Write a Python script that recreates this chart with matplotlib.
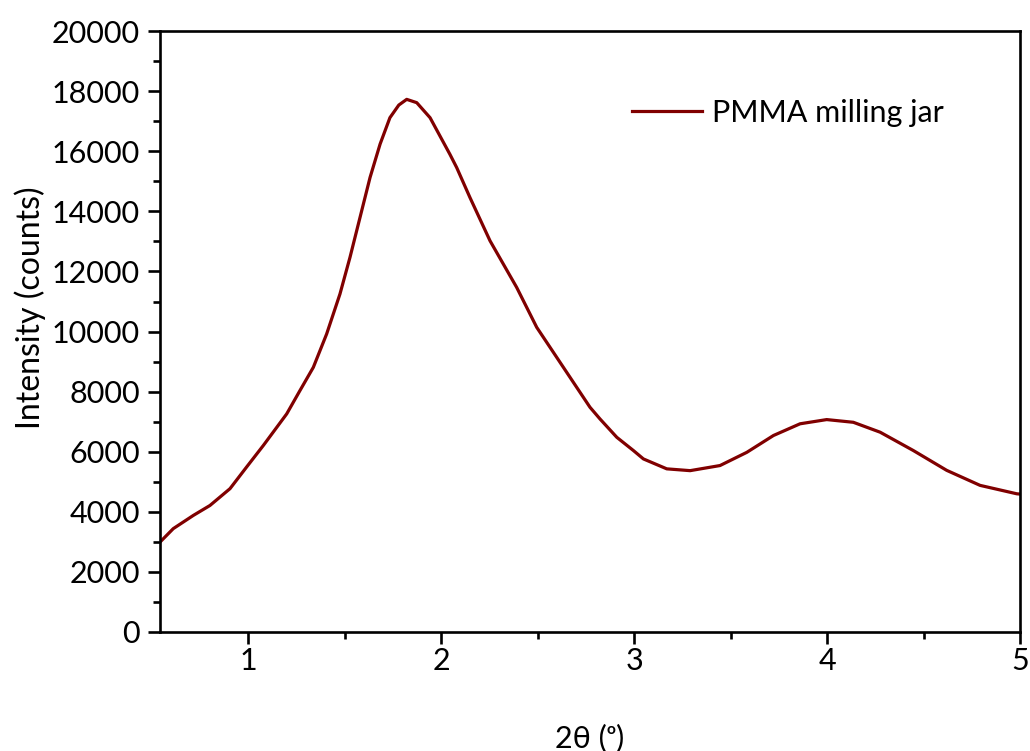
import numpy as np
import matplotlib.pyplot as plt
from matplotlib.ticker import MultipleLocator

# diffraction pattern, PMMA milling jar
two_theta = [0.542, 0.611, 0.715, 0.801, 0.905, 0.991, 1.078, 1.199, 1.268, 1.337,
             1.406, 1.475, 1.527, 1.579, 1.631, 1.683, 1.734, 1.780, 1.821, 1.873,
             1.942, 2.045, 2.080, 2.149, 2.253, 2.391, 2.495, 2.633, 2.771, 2.823,
             2.910, 2.996, 3.048, 3.169, 3.290, 3.445, 3.584, 3.722, 3.860, 3.998,
             4.136, 4.275, 4.447, 4.620, 4.793, 4.983, 5.0]
intensity = [2990, 3440, 3880, 4210, 4770, 5490, 6210, 7260, 8040, 8810,
             9920, 11250, 12470, 13800, 15130, 16240, 17120, 17540, 17730, 17620,
             17120, 15900, 15460, 14460, 13020, 11470, 10140, 8810, 7480, 7090,
             6480, 6040, 5760, 5430, 5370, 5540, 5980, 6540, 6930, 7070,
             6980, 6650, 6040, 5380, 4880, 4600, 4590]

plt.rcParams['font.family'] = ['Lato', 'DejaVu Sans']

fig = plt.figure(figsize=(10.3, 7.51), dpi=100)
ax = fig.add_axes([0.1553, 0.1585, 0.835, 0.800])

ax.plot(two_theta, intensity, color='#800000', lw=2.3, label='PMMA milling jar')

ax.set_xlim(0.542, 5)
ax.set_ylim(0, 20000)
ax.xaxis.set_major_locator(MultipleLocator(1))
ax.xaxis.set_minor_locator(MultipleLocator(0.5))
ax.yaxis.set_major_locator(MultipleLocator(2000))
ax.yaxis.set_minor_locator(MultipleLocator(1000))
ax.tick_params(which='major', direction='out', length=8.5, width=1.9, labelsize=22)
ax.tick_params(which='minor', direction='out', length=5, width=1.9)
ax.tick_params(axis='y', which='major', pad=6)
ax.tick_params(axis='x', which='major', pad=2)
for s in ax.spines.values():
    s.set_linewidth(1.9)

ax.set_xlabel('2θ (ᵒ)', fontsize=22)
ax.set_ylabel('Intensity (counts)', fontsize=23)
ax.xaxis.set_label_coords(0.5, -0.153)
ax.yaxis.set_label_coords(-0.133, 0.539)

ax.legend(loc='center left', bbox_to_anchor=(0.549, 0.864), frameon=False,
          fontsize=22, handlelength=2.3, handletextpad=0.3,
          borderpad=0, borderaxespad=0)

fig.savefig('out.png')
